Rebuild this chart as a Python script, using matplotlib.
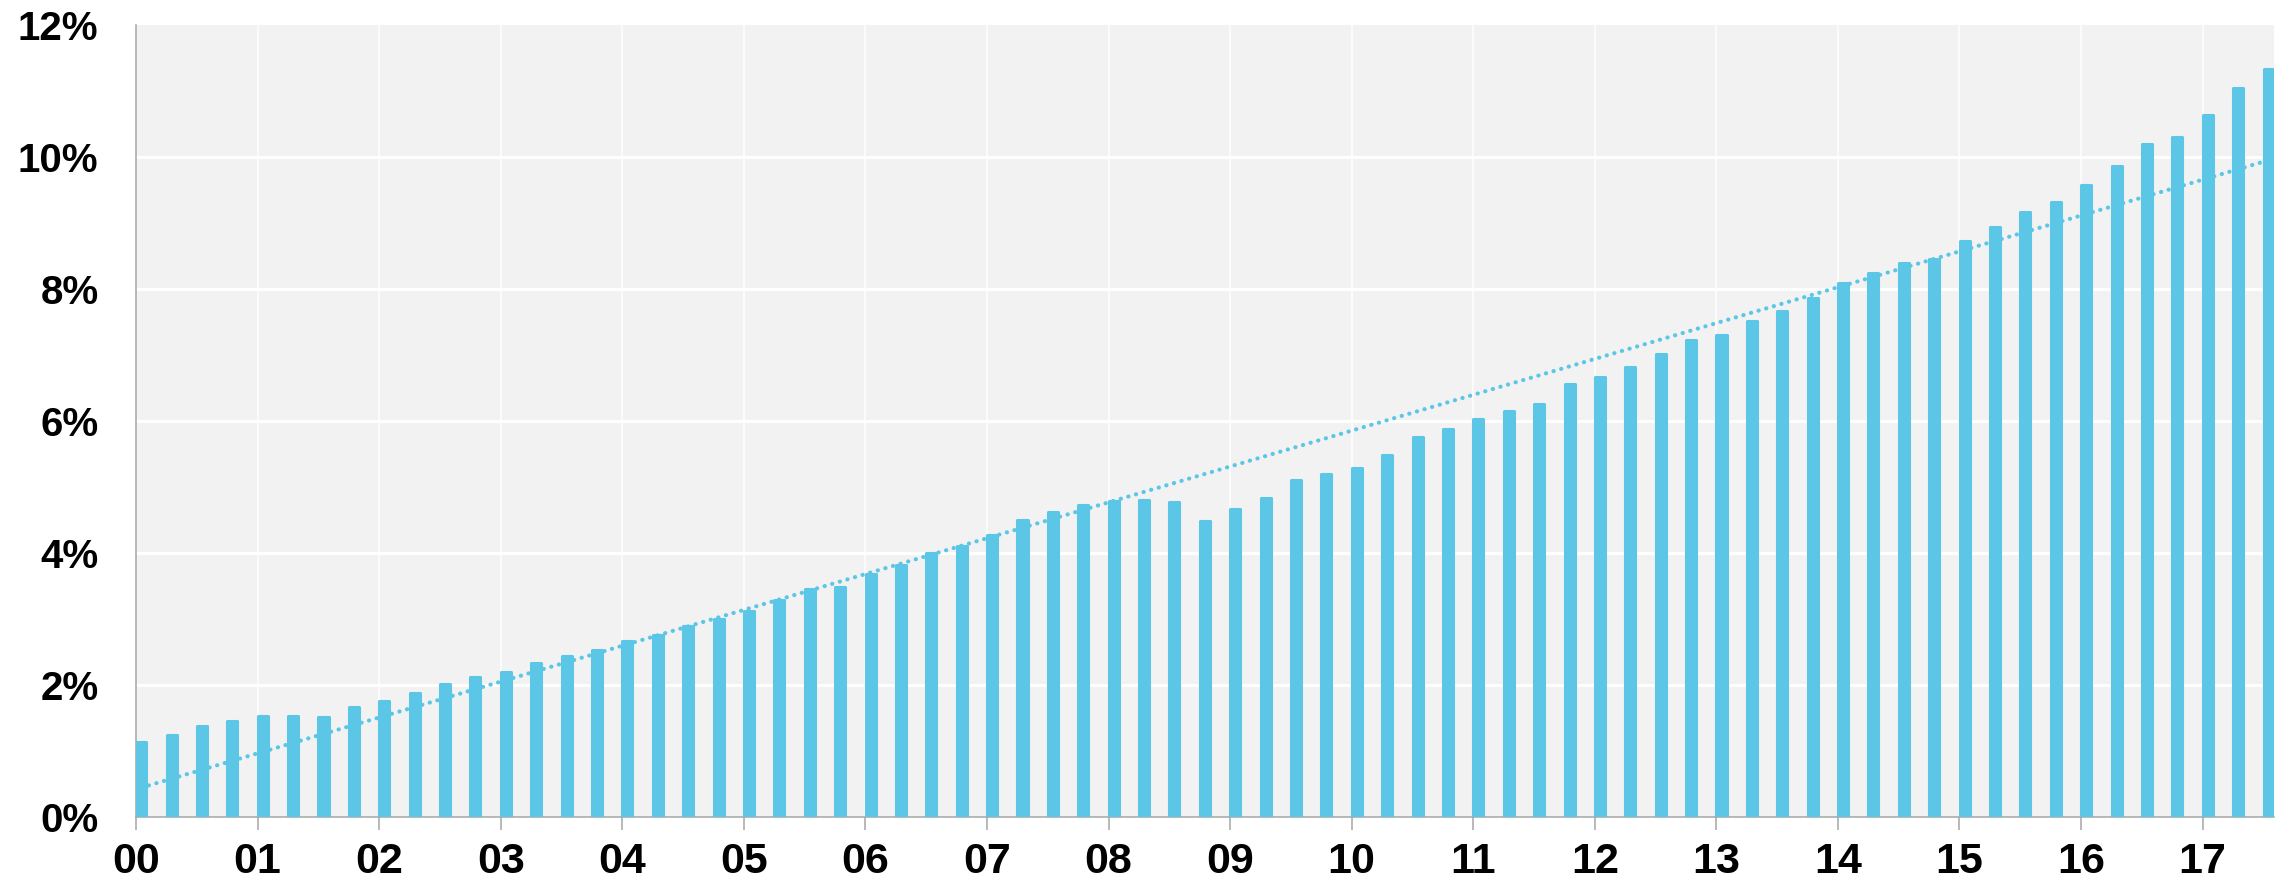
import matplotlib
matplotlib.use("Agg")
import matplotlib.pyplot as plt
import numpy as np

# Quarterly values (%), 2000 Q1 .. 2017 Q3
values = [
    1.13, 1.24, 1.38, 1.45, 1.52, 1.53, 1.51, 1.67,
    1.76, 1.88, 2.01, 2.11, 2.20, 2.33, 2.43, 2.53,
    2.67, 2.75, 2.89, 3.00, 3.12, 3.28, 3.45, 3.48,
    3.68, 3.81, 4.00, 4.10, 4.27, 4.49, 4.62, 4.72,
    4.79, 4.80, 4.77, 4.48, 4.66, 4.83, 5.11, 5.19,
    5.28, 5.48, 5.76, 5.87, 6.03, 6.15, 6.25, 6.56,
    6.67, 6.82, 7.02, 7.22, 7.30, 7.52, 7.67, 7.86,
    8.09, 8.24, 8.39, 8.46, 8.72, 8.94, 9.16, 9.32,
    9.58, 9.86, 10.20, 10.30, 10.63, 11.05, 11.33,
]
year_labels = ["00", "01", "02", "03", "04", "05", "06", "07", "08",
               "09", "10", "11", "12", "13", "14", "15", "16", "17"]
y_ticks = [0, 2, 4, 6, 8, 10, 12]
# dotted trend line, value at first and last bar
trend_ends = [0.44, 9.95]

bar_color = "#5BC6E6"
grid_color = "white"
axis_color = "#A6A6A6"

plt.rcParams["font.family"] = ["Liberation Sans", "DejaVu Sans"]

fig = plt.figure(figsize=(22.87, 8.88), dpi=100)
fig.subplots_adjust(left=136 / 2287, right=2274 / 2287,
                    top=1 - 25 / 888, bottom=1 - 816.7 / 888)
ax = fig.add_subplot()
ax.set_facecolor("#F2F2F2")

x = np.arange(len(values)) + 0.17
ax.bar(x, values, width=0.33, color=bar_color, edgecolor=bar_color,
       linewidth=2.2, joinstyle="round", zorder=3)

ax.plot([x[0], x[-1]], trend_ends, color=bar_color, linewidth=3.0,
        linestyle=(0, (0.05, 1.85)), dash_capstyle="round", zorder=4)

year_pos = np.arange(len(year_labels)) * 4
ax.set_xticks(year_pos)
ax.set_xticklabels(year_labels, fontsize=31, fontweight="bold")
ax.set_yticks(y_ticks)
ax.set_yticklabels([f"{v}%" for v in y_ticks], fontsize=29, fontweight="bold")
ax.set_xlim(0, 70.35)
ax.set_ylim(0, 12)

ax.tick_params(axis="x", length=9, width=1.1, color=axis_color, pad=9)
ax.tick_params(axis="y", length=0, pad=27)

for y in y_ticks[1:-1]:
    ax.axhline(y, color=grid_color, linewidth=2.2, zorder=1)
for xp in year_pos[1:]:
    ax.axvline(xp, color=grid_color, linewidth=1.1, zorder=1)

for side in ["top", "right"]:
    ax.spines[side].set_visible(False)
for side in ["left", "bottom"]:
    ax.spines[side].set_color(axis_color)
    ax.spines[side].set_linewidth(1.1)
ax.spines["bottom"].set_zorder(2)

fig.savefig("out.png", dpi=100)
